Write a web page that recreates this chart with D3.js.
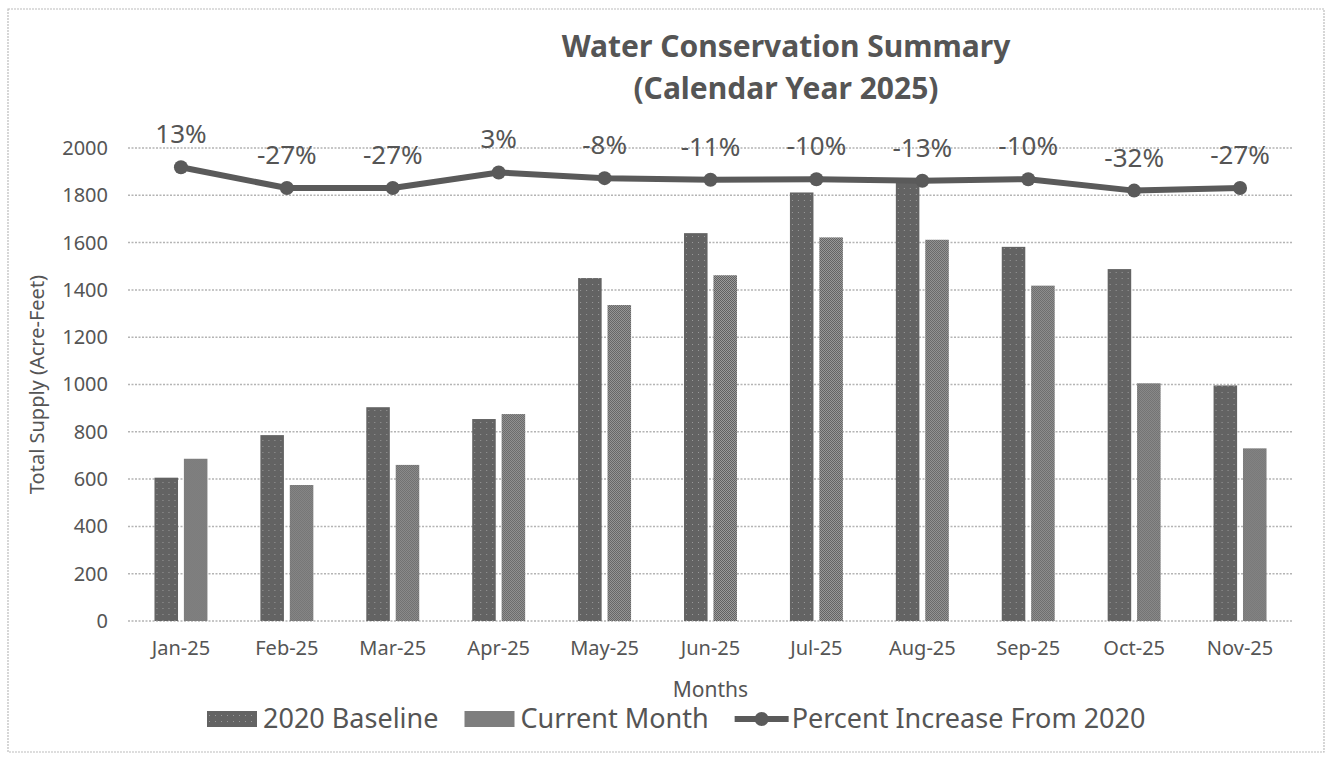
<!DOCTYPE html>
<html>
<head>
<meta charset="utf-8">
<script src="https://cdn.jsdelivr.net/npm/d3@7"></script>
<style>
  body { margin: 0; background: #fff; }
  text { font-family: "Noto Sans", "Open Sans", sans-serif; fill: #555; }
</style>
</head>
<body>
<div id="chart"></div>
<script>
const months = ["Jan-25", "Feb-25", "Mar-25", "Apr-25", "May-25", "Jun-25", "Jul-25", "Aug-25", "Sep-25", "Oct-25", "Nov-25"];
const baseline = [606, 786, 904, 854, 1450, 1640, 1812, 1865, 1582, 1488, 996];
const current = [686, 575, 660, 875, 1336, 1462, 1622, 1612, 1418, 1005, 730];
const pctIncrease = [13, -27, -27, 3, -8, -11, -10, -13, -10, -32, -27];
const yTicks = [0, 200, 400, 600, 800, 1000, 1200, 1400, 1600, 1800, 2000];
const seriesNames = ["2020 Baseline", "Current Month", "Percent Increase From 2020"];

const width = 1328, height = 758;
const plotLeft = 128, plotRight = 1293, plotTop = 148, plotBottom = 621;

const svg = d3.select("#chart").append("svg")
  .attr("width", width)
  .attr("height", height);

// fill patterns for the two bar series
const defs = svg.append("defs");
const p1 = defs.append("pattern").attr("id", "patBase")
  .attr("width", 6).attr("height", 6).attr("patternUnits", "userSpaceOnUse");
p1.append("rect").attr("width", 6).attr("height", 6).attr("fill", "#636363");
p1.append("rect").attr("x", 2).attr("y", 2).attr("width", 1).attr("height", 1).attr("fill", "#9a9a9a");

const p2 = defs.append("pattern").attr("id", "patCur")
  .attr("width", 2).attr("height", 2).attr("patternUnits", "userSpaceOnUse");
p2.append("rect").attr("width", 2).attr("height", 2).attr("fill", "#9c9c9c");
p2.append("rect").attr("width", 1).attr("height", 1).attr("fill", "#606060");
p2.append("rect").attr("x", 1).attr("y", 1).attr("width", 1).attr("height", 1).attr("fill", "#606060");

// chart border
svg.append("rect")
  .attr("x", 8).attr("y", 9).attr("width", 1316).attr("height", 743)
  .attr("fill", "none").attr("stroke", "#bcbcbc").attr("stroke-width", 1.2)
  .attr("stroke-dasharray", "2,1");

const x0 = d3.scaleBand().domain(months).range([plotLeft, plotRight])
  .paddingInner(0.5).paddingOuter(0.25);
const x1 = d3.scaleBand().domain(["base", "cur"]).range([0, x0.bandwidth()]).paddingInner(0.2);
const y = d3.scaleLinear().domain([0, 2000]).range([plotBottom, plotTop]);
const y2 = d3.scaleLinear().domain([-860, 50]).range([plotBottom, plotTop]);

// gridlines
svg.append("g").selectAll("line")
  .data(yTicks)
  .join("line")
  .attr("x1", plotLeft).attr("x2", plotRight)
  .attr("y1", d => y(d)).attr("y2", d => y(d))
  .attr("stroke", "#b4b4b4").attr("stroke-width", 1.5)
  .attr("stroke-dasharray", "2,1.5");

// y axis labels
const yAxis = svg.append("g")
  .attr("transform", `translate(${plotLeft - 20},0)`)
  .call(d3.axisLeft(y).tickValues(yTicks).tickFormat(d3.format("d")).tickSize(0).tickPadding(0));
yAxis.select(".domain").remove();
yAxis.selectAll("text")
  .style("font-family", "'Noto Sans', sans-serif")
  .style("font-size", "20px").style("fill", "#555");

// x axis labels
const xAxis = svg.append("g")
  .attr("transform", `translate(0,${plotBottom})`)
  .call(d3.axisBottom(x0).tickSize(0).tickPadding(20));
xAxis.select(".domain").remove();
xAxis.selectAll("text")
  .style("font-family", "'Noto Sans', sans-serif")
  .style("font-size", "20px").style("fill", "#555");

// bars
const groups = svg.append("g").selectAll("g")
  .data(months)
  .join("g")
  .attr("transform", d => `translate(${x0(d)},0)`);

groups.append("rect")
  .attr("x", x1("base"))
  .attr("width", x1.bandwidth())
  .attr("y", (d, i) => y(baseline[i]))
  .attr("height", (d, i) => y(0) - y(baseline[i]))
  .attr("fill", "url(#patBase)");

groups.append("rect")
  .attr("x", x1("cur"))
  .attr("width", x1.bandwidth())
  .attr("y", (d, i) => y(current[i]))
  .attr("height", (d, i) => y(0) - y(current[i]))
  .attr("fill", "url(#patCur)");

// percent line
const cx = d => x0(d) + x0.bandwidth() / 2;
const line = d3.line()
  .x((d, i) => cx(months[i]))
  .y(d => y2(d));

svg.append("path")
  .datum(pctIncrease)
  .attr("d", line)
  .attr("fill", "none")
  .attr("stroke", "#5a5a5a")
  .attr("stroke-width", 6)
  .attr("stroke-linejoin", "round");

svg.append("g").selectAll("circle")
  .data(pctIncrease)
  .join("circle")
  .attr("cx", (d, i) => cx(months[i]))
  .attr("cy", d => y2(d))
  .attr("r", 7)
  .attr("fill", "#5a5a5a");

svg.append("g").selectAll("text")
  .data(pctIncrease)
  .join("text")
  .attr("x", (d, i) => cx(months[i]))
  .attr("y", d => y2(d) - 24)
  .attr("text-anchor", "middle")
  .style("font-size", "26px")
  .text(d => d + "%");

// titles
svg.append("text")
  .attr("x", 786).attr("y", 57)
  .attr("text-anchor", "middle")
  .style("font-size", "30px").style("font-weight", "bold").style("fill", "#555")
  .text("Water Conservation Summary");
svg.append("text")
  .attr("x", 786).attr("y", 99)
  .attr("text-anchor", "middle")
  .style("font-size", "30px").style("font-weight", "bold").style("fill", "#555")
  .text("(Calendar Year 2025)");

svg.append("text")
  .attr("transform", `translate(44,${(plotTop + plotBottom) / 2}) rotate(-90)`)
  .attr("text-anchor", "middle")
  .style("font-size", "20px")
  .text("Total Supply (Acre-Feet)");

svg.append("text")
  .attr("x", (plotLeft + plotRight) / 2).attr("y", 697)
  .attr("text-anchor", "middle")
  .style("font-size", "21px")
  .text("Months");

// legend
const legend = svg.append("g").attr("transform", "translate(207,719)");
let lx = 0;
seriesNames.forEach((name, i) => {
  const g = legend.append("g").attr("transform", `translate(${lx},0)`);
  if (i < 2) {
    g.append("rect").attr("x", 0).attr("y", -8).attr("width", 50).attr("height", 16)
      .attr("fill", i === 0 ? "url(#patBase)" : "url(#patCur)");
  } else {
    g.append("line").attr("x1", 0).attr("x2", 54).attr("y1", 0).attr("y2", 0)
      .attr("stroke", "#5a5a5a").attr("stroke-width", 6);
    g.append("circle").attr("cx", 27).attr("cy", 0).attr("r", 7).attr("fill", "#5a5a5a");
  }
  const t = g.append("text")
    .attr("x", i < 2 ? 56 : 57).attr("y", 0)
    .attr("dy", "0.35em")
    .style("font-size", "27px")
    .text(name);
  lx += (i < 2 ? 56 : 57) + t.node().getComputedTextLength() + 26;
});
</script>
</body>
</html>
